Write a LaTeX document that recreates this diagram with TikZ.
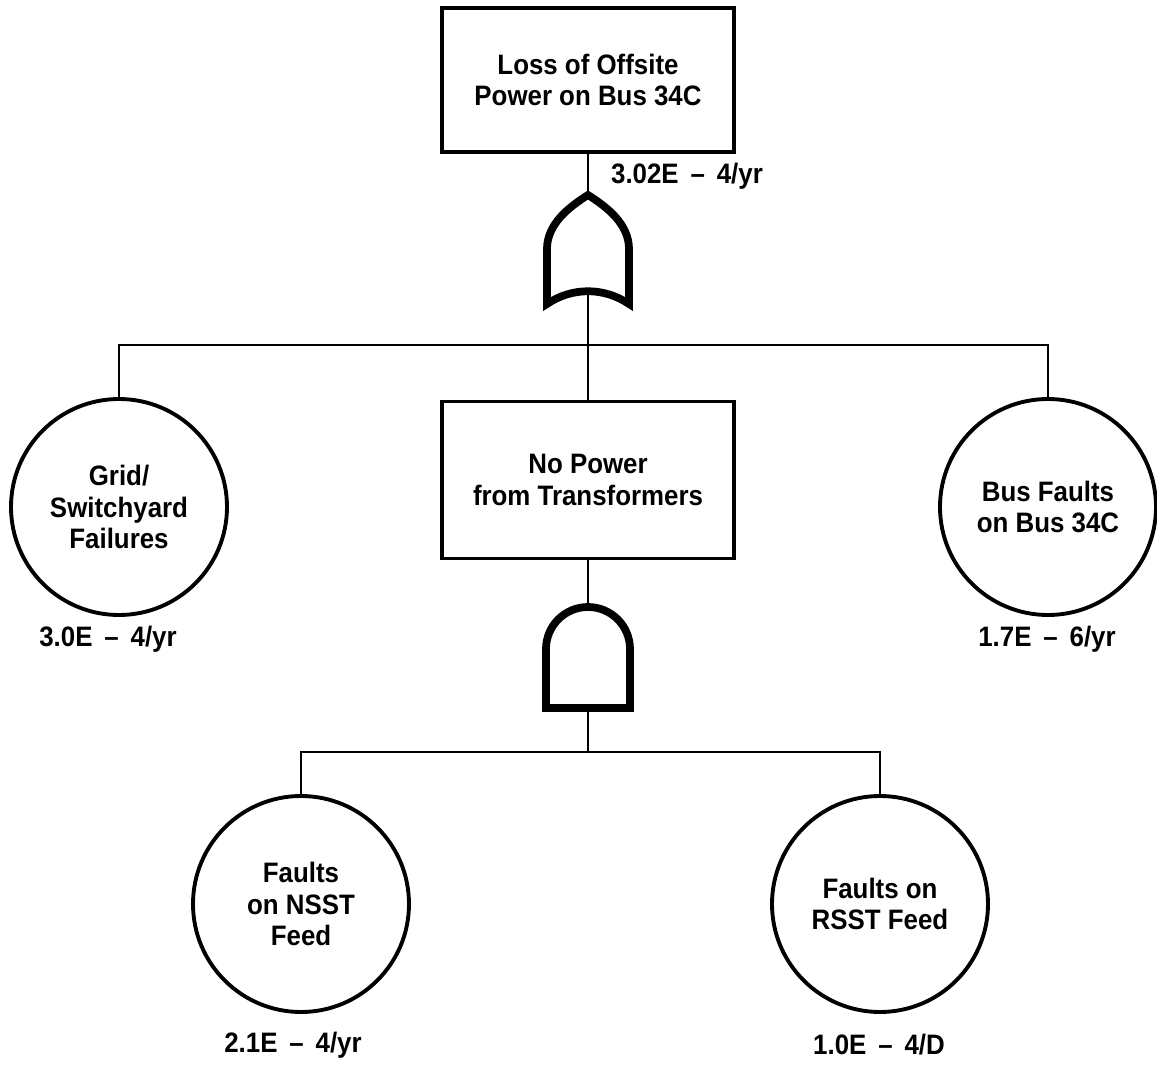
\documentclass[tikz,border=0pt]{standalone}
\usepackage{fontspec}
\setmainfont{Liberation Sans}[FakeStretch=0.92]
\newcommand{\treefont}{\fontsize{8}{9}\selectfont\bfseries}
\newcommand{\orgate}[1]{\begin{scope}[shift={(#1)}]
	\draw[gate] (-0.41,0) -- (-0.41,0.55) .. controls (-0.41,0.80) and (-0.19,0.97) .. (0,1.09)
		.. controls (0.19,0.97) and (0.41,0.80) .. (0.41,0.55) -- (0.41,0)
		.. controls (0.16,0.17) and (-0.16,0.17) .. cycle;
	\end{scope}}
\newcommand{\andgate}[1]{\draw[gate] ([shift={(#1)}]-0.42,0) --++ (0,0.59)
	arc[start angle=180,end angle=0,radius=0.42] --++ (0,-0.59) -- cycle}
\tikzset{
	event/.style = {draw, line width=1.1pt, rectangle, minimum width=2.92cm, align=center, inner sep=0, outer sep=0, font=\treefont},
	basic/.style = {draw, line width=1.1pt, circle, minimum size=2.16cm, align=center, inner sep=0, outer sep=0, font=\treefont},
	prob/.style = {inner sep=0, font=\treefont},
	gate/.style = {line width=2.2pt, line join=miter},
	wire/.style = {line width=0.8pt}
}

\begin{document}
\begin{tikzpicture}
	\useasboundingbox (0,0) rectangle (11.57,10.64);
%Events
	\node[event, minimum height=1.44cm] (lossbus) at (5.88,9.84) {Loss of Offsite\\Power on Bus 34C};
	\node[event, minimum height=1.57cm] (notrans) at (5.88,5.84) {No Power\\from Transformers};
	\node[basic] (grid) at (1.19,5.57) {Grid/\\Switchyard\\Failures};
	\node[basic] (busflt) at (10.48,5.57) {Bus Faults\\on Bus 34C};
	\node[basic] (nsst) at (3.01,1.60) {Faults\\on NSST\\Feed};
	\node[basic] (rsst) at (8.80,1.60) {Faults on\\RSST Feed};
%Frequencies
	\node[prob] (plossbus) at (6.87,8.88) {3.02E \,--\, 4/yr};
	\node[prob] (pgrid) at (1.08,4.25) {3.0E \,--\, 4/yr};
	\node[prob] (pbusflt) at (10.47,4.25) {1.7E \,--\, 6/yr};
	\node[prob] (pnsst) at (2.93,0.19) {2.1E \,--\, 4/yr};
	\node[prob] (prsst) at (8.79,0.19) {1.0E \,--\, 4/D};
%Gate ends
	\coordinate (orout) at (5.88,8.69);
	\coordinate (orin) at (5.88,7.73);
	\coordinate (orjoin) at (5.88,7.19);
	\coordinate (andout) at (5.88,4.57);
	\coordinate (andin) at (5.88,3.56);
	\coordinate (andjoin) at (5.88,3.12);
%Connections
	\draw[wire] (lossbus.south) -- (orout);
	\draw[wire] (orin) -- (notrans.north);
	\draw[wire] (grid.north) |- (orjoin) -| (busflt.north);
	\draw[wire] (notrans.south) -- (andout);
	\draw[wire] (andin) -- (andjoin);
	\draw[wire] (nsst.north) |- (andjoin) -| (rsst.north);
%Gates
	\orgate{5.88,7.60};
	\andgate{5.88,3.56};
\end{tikzpicture}
\end{document}
